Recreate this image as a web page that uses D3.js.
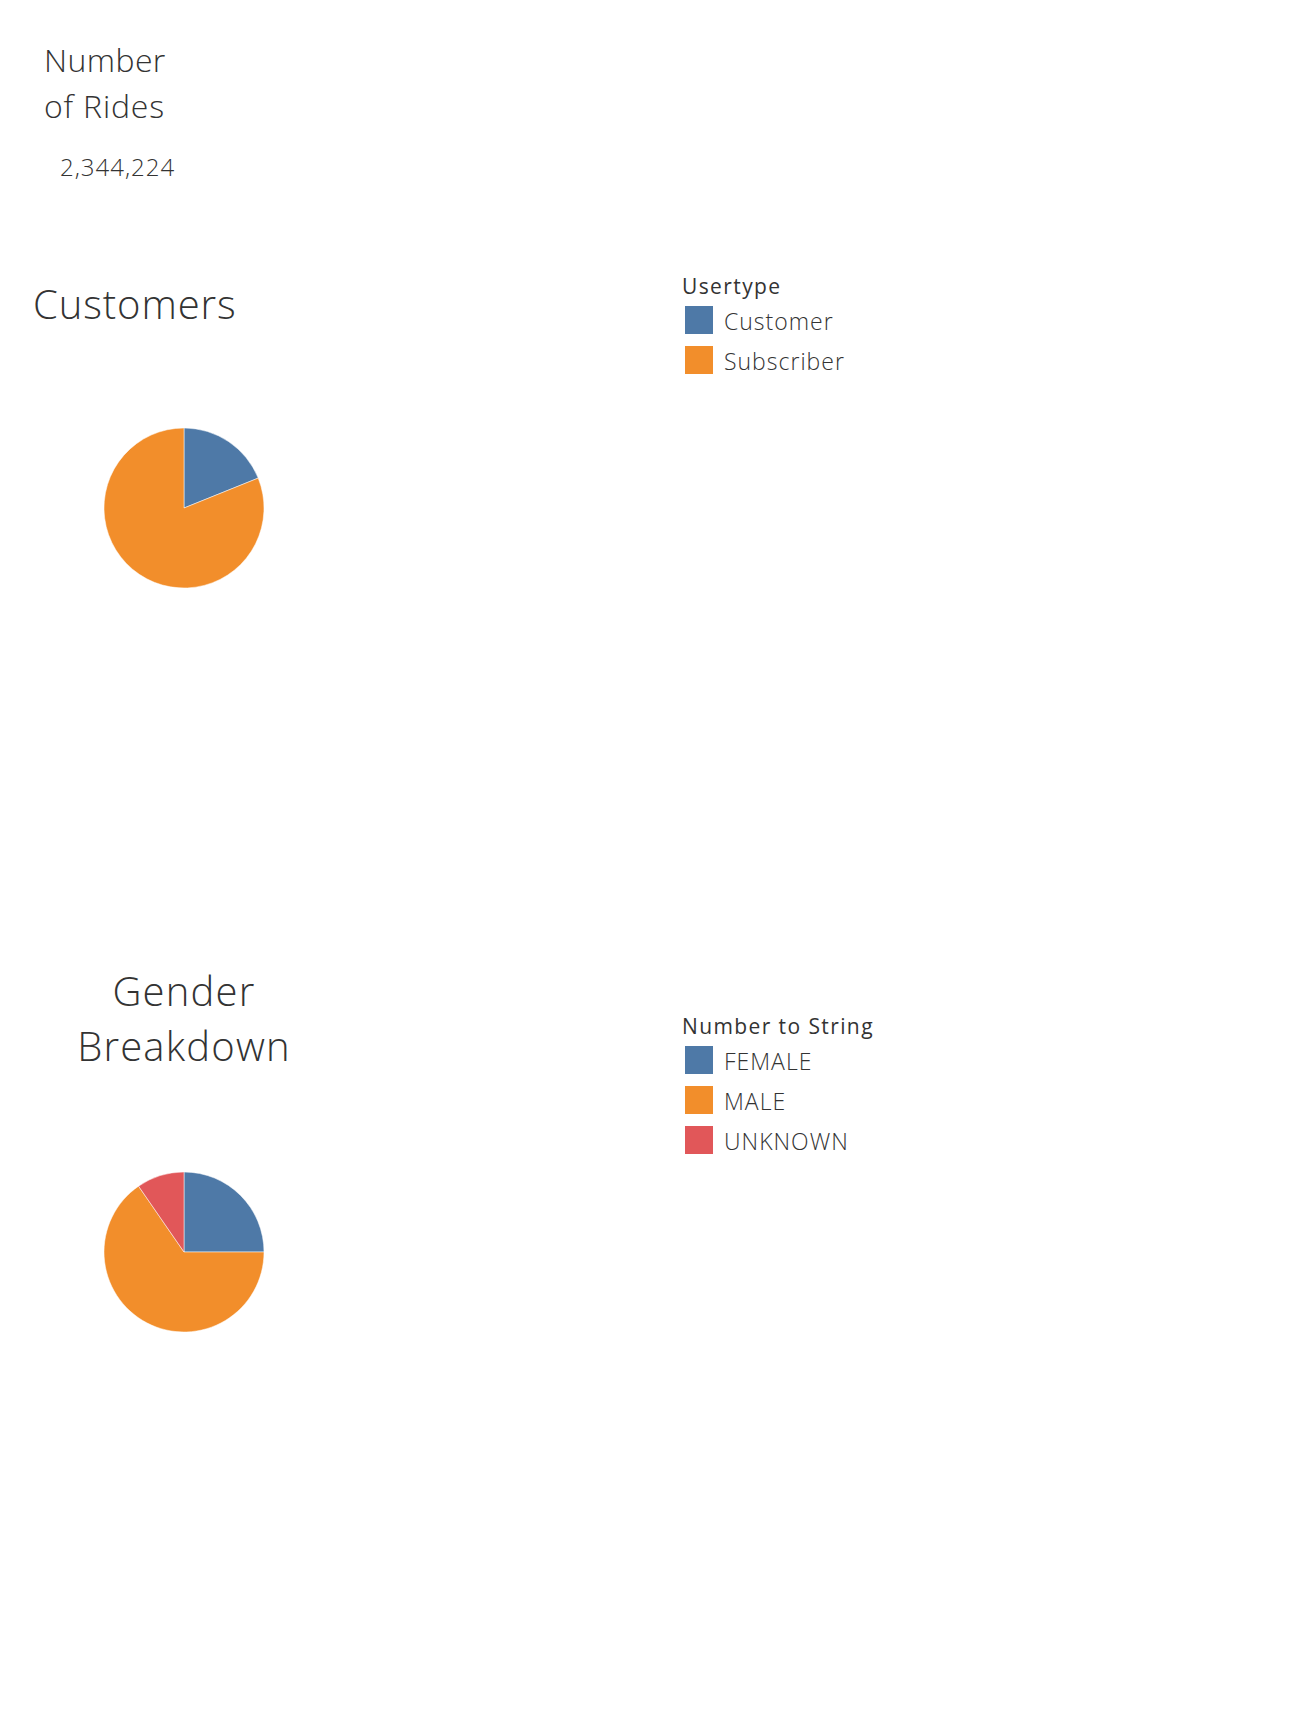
<!DOCTYPE html>
<html>
<head>
<meta charset="utf-8">
<script src="https://cdn.jsdelivr.net/npm/d3@7"></script>
<style>
  html, body { margin: 0; padding: 0; background: #ffffff; }
  svg { display: block; }
  text { font-family: "Open Sans", "Noto Sans", sans-serif; fill: #333333; }
</style>
</head>
<body>
<svg id="chart" width="1298" height="1718"></svg>
<script>
// ---- Data ----
const totalRides = 2344224;

const usertypeCategories = ["Customer", "Subscriber"];
const usertypeValues = [443100, 1901124];

const genderCategories = ["FEMALE", "MALE", "UNKNOWN"];
const genderValues = [586100, 1532824, 225300];

const palette = ["#4e79a7", "#f28e2b", "#e15759"];

// ---- Drawing ----
const svg = d3.select("#chart");

// Number of rides KPI
const kpi = svg.append("g");
kpi.append("text").attr("x", 44).attr("y", 72).attr("font-size", 32).attr("font-weight", 300)
  .attr("letter-spacing", 0.4).text("Number");
kpi.append("text").attr("x", 44).attr("y", 118).attr("font-size", 32).attr("font-weight", 300)
  .attr("letter-spacing", 0.8).text("of Rides");
kpi.append("text").attr("x", 60).attr("y", 176).attr("font-size", 24).attr("font-weight", 300)
  .attr("letter-spacing", 1).text(d3.format(",")(totalRides));

// Pie helper
const pie = d3.pie().sort(null).value(d => d.value);
const arc = d3.arc().innerRadius(0).outerRadius(80);

function drawPie(cx, cy, cats, vals) {
  const color = d3.scaleOrdinal().domain(cats).range(palette);
  const data = cats.map((c, i) => ({ key: c, value: vals[i] }));
  const g = svg.append("g").attr("transform", `translate(${cx},${cy})`);
  g.selectAll("path").data(pie(data)).join("path")
    .attr("d", arc)
    .attr("fill", d => color(d.data.key))
    .attr("stroke", "#ffffff").attr("stroke-width", 0.5);
  return color;
}

function drawLegend(x, y, title, cats, color) {
  const g = svg.append("g").attr("transform", `translate(${x},${y})`);
  g.append("text").attr("x", 0).attr("y", 0).attr("font-size", 21).attr("font-weight", 500)
    .attr("letter-spacing", 1.4).text(title);
  const items = g.selectAll("g.item").data(cats).join("g")
    .attr("class", "item")
    .attr("transform", (d, i) => `translate(0,${12 + i * 40})`);
  items.append("rect").attr("x", 3).attr("y", 0).attr("width", 28).attr("height", 28)
    .attr("fill", d => color(d));
  items.append("text").attr("x", 42).attr("y", 24).attr("font-size", 23).attr("font-weight", 300)
    .attr("letter-spacing", 1).text(d => d);
}

// Customers section
svg.append("text").attr("x", 33).attr("y", 319).attr("font-size", 40).attr("font-weight", 300)
  .attr("letter-spacing", 0.9).text("Customers");
const c1 = drawPie(184, 508, usertypeCategories, usertypeValues);
drawLegend(682, 294, "Usertype", usertypeCategories, c1);

// Gender section
const gt = svg.append("text").attr("text-anchor", "middle").attr("font-size", 40).attr("font-weight", 300)
  .attr("letter-spacing", 1.2);
gt.append("tspan").attr("x", 184).attr("y", 1006).text("Gender");
gt.append("tspan").attr("x", 184).attr("y", 1061).text("Breakdown");
const c2 = drawPie(184, 1252, genderCategories, genderValues);
drawLegend(682, 1034, "Number to String", genderCategories, c2);
</script>
</body>
</html>
